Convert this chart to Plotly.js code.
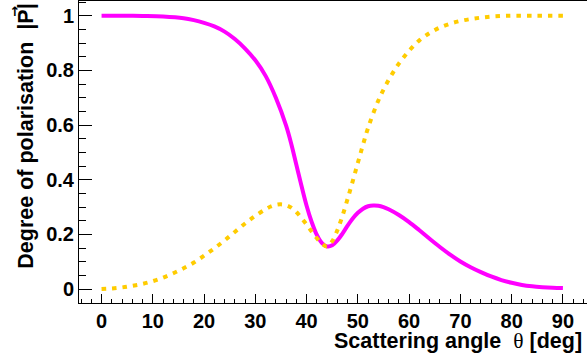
<!DOCTYPE html>
<html>
<head>
<meta charset="utf-8">
<script src="https://cdn.plot.ly/plotly-3.0.1.min.js"></script>
<style>html,body{margin:0;padding:0;background:#fff;}#chart{width:587px;height:358px;}</style>
</head>
<body>
<div id="chart"></div>
<script>
// Scattering angle (deg)
const angleA = [0,4,8,12,16,18,20,22,24,26,28,30,32,34,36,37,38,39,40,41,42,43,44,45,46,47,48,49,50,51,52,53,54,55,56,58,60,62,64,66,68,70,72,74,76,78,80,82,84,86,88,90];
// Degree of polarisation, solid magenta curve
const polA = [1.000,1.000,0.999,0.997,0.991,0.984,0.974,0.961,0.942,0.915,0.880,0.837,0.780,0.700,0.598,0.532,0.455,0.378,0.305,0.245,0.198,0.168,0.156,0.160,0.178,0.203,0.232,0.258,0.279,0.294,0.303,0.306,0.305,0.300,0.292,0.271,0.245,0.215,0.184,0.154,0.126,0.101,0.080,0.062,0.046,0.033,0.023,0.015,0.010,0.007,0.005,0.004];

const angleB = [0,2,4,6,8,10,12,14,16,18,20,22,24,26,28,30,32,33,34,35,36,37,38,39,40,41,42,43,44,45,46,47,48,49,50,51,52,54,56,58,60,62,64,66,68,70,72,74,76,78,80,85,90];
// Degree of polarisation, dotted orange curve
const polB = [0.000,0.002,0.006,0.012,0.019,0.029,0.042,0.058,0.076,0.097,0.122,0.149,0.178,0.209,0.240,0.268,0.292,0.302,0.308,0.310,0.307,0.298,0.282,0.260,0.236,0.210,0.186,0.166,0.156,0.175,0.215,0.268,0.330,0.395,0.462,0.528,0.590,0.690,0.765,0.825,0.872,0.910,0.937,0.957,0.971,0.981,0.988,0.993,0.997,0.999,1.000,1.000,1.000];

const xTitle = 'Scattering angle  <span style="font-family:\'Liberation Serif\';font-weight:normal">θ</span> [deg]';
const yTitle = 'Degree of polarisation  |P|';

const fontB = {family: 'Liberation Sans, Arial, sans-serif', size: 20, color: '#000', weight: 'bold'};
const titleFont = {family: 'Liberation Sans, Arial, sans-serif', size: 21.5, color: '#000', weight: 'bold'};

const traces = [
  {x: angleA, y: polA, mode: 'lines', line: {color: 'rgb(255,0,255)', width: 4, shape: 'spline', smoothing: 1}, hoverinfo: 'skip'},
  {x: angleB, y: polB, mode: 'lines', line: {color: 'rgb(255,204,0)', width: 4, dash: '4.5px,6px', shape: 'spline', smoothing: 1}, hoverinfo: 'skip'}
];

const layout = {
  width: 587, height: 358,
  margin: {l: 79, r: 0, t: 1, b: 55},
  paper_bgcolor: '#fff', plot_bgcolor: '#fff',
  showlegend: false,
  xaxis: {
    range: [-4.4, 94.7], showgrid: false, zeroline: false,
    showline: true, linecolor: '#000', linewidth: 1, mirror: true,
    ticks: 'inside', ticklen: 9, tickcolor: '#000', tickwidth: 1, dtick: 10, tick0: 0,
    minor: {dtick: 2, ticks: 'inside', ticklen: 4.5, tickcolor: '#000', tickwidth: 1, showgrid: false},
    tickfont: fontB
  },
  yaxis: {
    range: [-0.051, 1.054], showgrid: false, zeroline: false,
    showline: true, linecolor: '#000', linewidth: 1,
    ticks: 'inside', ticklen: 13, tickcolor: '#000', tickwidth: 1, dtick: 0.2, tick0: 0,
    minor: {dtick: 0.05, ticks: 'inside', ticklen: 6.5, tickcolor: '#000', tickwidth: 1, showgrid: false},
    tickfont: fontB
  },
  annotations: [
    {text: xTitle, xref: 'paper', yref: 'paper', x: 0.994, y: -0.127, xanchor: 'right', yanchor: 'middle', showarrow: false, font: titleFont},
    {text: yTitle, xref: 'paper', yref: 'paper', x: -0.106, y: 1, yshift: -1, xanchor: 'center', yanchor: 'top', textangle: -90, showarrow: false, font: titleFont},
    {text: '→', xref: 'paper', yref: 'paper', x: -0.127, y: 1, yshift: -3, xanchor: 'center', yanchor: 'top', textangle: -90, showarrow: false, font: {family: 'DejaVu Sans, sans-serif', size: 13, color: '#000', weight: 'bold'}}
  ]
};

Plotly.newPlot('chart', traces, layout, {staticPlot: true, displayModeBar: false});
</script>
</body>
</html>
